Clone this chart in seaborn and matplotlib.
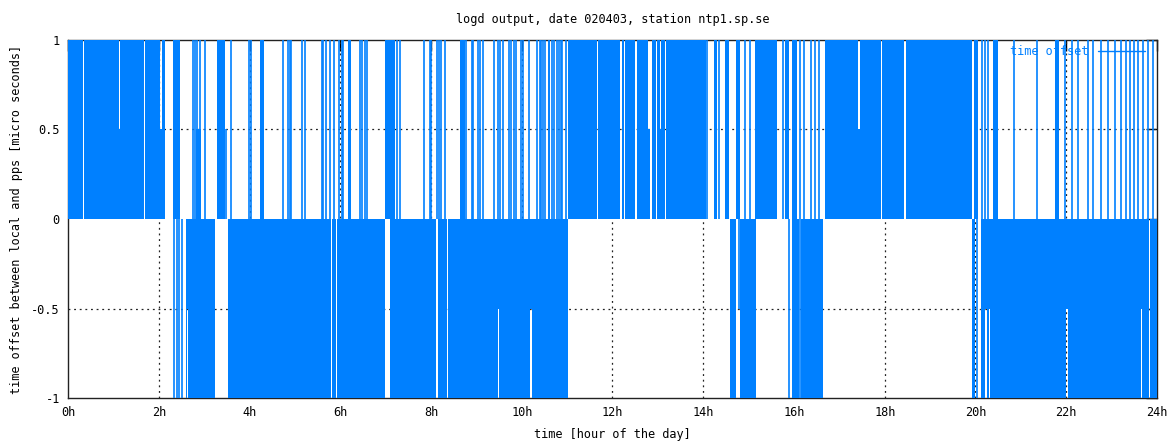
import matplotlib
matplotlib.use("Agg")
import matplotlib.pyplot as plt
import numpy as np
import seaborn as sns
from matplotlib.lines import Line2D

# solid runs of the offset: start hour, end hour, value [micro seconds]
seg_start = [0.00, 0.36, 1.12, 1.15, 1.70, 2.03, 2.06, 2.32, 2.83, 3.28, 4.24, 6.17, 6.98, 8.64,
             11.03, 11.68, 12.21, 12.28, 12.44, 12.54, 12.79, 12.86, 12.98, 13.04, 13.07, 13.17,
             14.23, 14.47, 14.72, 15.15, 15.81, 15.96, 16.68, 17.42, 17.45, 17.94, 18.46, 19.96,
             20.38, 21.76,
             2.59, 2.62, 2.65, 3.52, 5.82, 5.93, 7.09, 8.15, 8.38, 9.47, 9.50, 10.19, 10.22,
             14.60, 14.82, 15.96, 16.16, 19.93, 20.12, 20.22, 20.25, 20.29, 20.32, 22.00, 22.03,
             23.65, 23.68, 23.85]
seg_end = [0.33, 1.12, 1.15, 1.67, 2.03, 2.06, 2.13, 2.47, 2.93, 3.47, 4.32, 6.24, 7.20, 8.75,
           11.65, 12.16, 12.26, 12.42, 12.50, 12.79, 12.83, 12.96, 13.04, 13.07, 13.15, 14.06,
           14.30, 14.56, 14.80, 15.63, 15.88, 16.07, 17.42, 17.45, 17.91, 18.43, 19.93, 20.05,
           20.49, 21.85,
           2.62, 2.65, 3.24, 5.79, 5.90, 6.99, 8.12, 8.35, 9.47, 9.50, 10.19, 10.22, 11.03,
           14.72, 15.16, 16.11, 16.65, 20.00, 20.22, 20.25, 20.29, 20.32, 22.00, 22.03, 23.65,
           23.68, 23.82, 24.00]
seg_value = [1, 1, 0.5, 1, 1, 0.5, 1, 1, 0.5, 1, 1, 1, 1, 1,
             1, 1, 1, 1, 1, 1, 0.5, 1, 1, 0.5, 1, 1,
             1, 1, 1, 1, 1, 1, 1, 0.5, 1, 1, 1, 1,
             1, 1,
             -1, -0.5, -1, -1, -1, -1, -1, -1, -1, -0.5, -1, -0.5, -1,
             -1, -1, -1, -1, -1, -1, -0.5, -1, -0.5, -1, -0.5, -1,
             -0.5, -1, -1]

# single samples (impulses)
imp_hour = [2.75, 2.80, 2.85, 2.91, 3.02, 3.48, 3.59, 3.99, 4.03, 4.74, 4.84, 4.89, 4.92, 5.16,
            5.22, 5.59, 5.62, 5.69, 5.77, 5.86, 5.97, 6.04, 6.07, 6.44, 6.48, 6.55, 6.59, 7.26,
            7.32, 7.85, 7.98, 8.01, 8.13, 8.18, 8.22, 8.31, 8.77, 8.90, 8.92, 9.04, 9.08, 9.14,
            9.39, 9.48, 9.53, 9.59, 9.72, 9.76, 9.83, 9.87, 9.98, 10.03, 10.17, 10.33, 10.40,
            10.42, 10.47, 10.51, 10.59, 10.61, 10.67, 10.70, 10.77, 10.81, 10.86, 10.89, 10.98,
            14.08, 14.34, 14.91, 15.04, 15.75, 16.13, 16.23, 16.37, 16.47, 16.55, 20.14, 20.21,
            20.28, 20.85, 21.35, 21.97, 22.12, 22.27, 22.47, 22.60, 22.76, 22.91, 23.07, 23.21,
            23.31, 23.41, 23.50, 23.59, 23.70, 23.81, 23.92,
            2.34, 2.40, 2.45, 2.51, 14.78, 15.90, 16.14, 20.03]
imp_value = [1, 1, 1, 1, 1, 0.5, 1, 1, 1, 1, 1, 1, 1, 1,
             1, 1, 1, 1, 1, 1, 1, 1, 1, 1, 1, 1, 1, 1,
             1, 1, 1, 1, 1, 1, 1, 1, 1, 1, 1, 1, 1, 1,
             1, 1, 1, 1, 1, 1, 1, 1, 1, 1, 1, 1, 1,
             1, 1, 1, 1, 1, 1, 1, 1, 1, 1, 1, 1,
             1, 1, 1, 1, 1, 1, 1, 1, 1, 1, 1, 1,
             1, 1, 1, 1, 1, 1, 1, 1, 1, 1, 1, 1,
             1, 1, 1, 1, 1, 1, 1,
             -1, -1, -1, -1, -0.5, -1, -1, -1]

x_ticks = list(range(0, 25, 2))
x_labels = [f"{h}h" for h in x_ticks]
y_ticks = [-1, -0.5, 0, 0.5, 1]
y_labels = ["-1", "-0.5", "0", "0.5", "1"]

blue = "#0080ff"

sns.set_style("white")
plt.rcParams["font.family"] = ["DejaVu Sans Mono"]
plt.rcParams["font.size"] = 8.6
plt.rcParams["text.color"] = "black"
plt.rcParams["axes.labelcolor"] = "black"

fig = plt.figure(figsize=(11.67, 4.41), dpi=100)
ax = fig.add_axes([0.0583, 0.0975, 0.9331, 0.8118])

widths = np.array(seg_end) - np.array(seg_start)
ax.bar(seg_start, seg_value, width=widths, align="edge", color=blue, linewidth=0, zorder=3)
ax.vlines(imp_hour, 0, imp_value, color=blue, lw=1.2, zorder=3)

for h in x_ticks[1:-1]:
    ax.axvline(h, color="#222222", lw=0.9, ls=(0, (1.5, 3)), zorder=1)
for v in [-0.5, 0.5]:
    ax.axhline(v, color="#222222", lw=0.9, ls=(0, (1.5, 3)), zorder=1)

ax.set_xlim(0, 24)
ax.set_ylim(-1, 1)
ax.set_xticks(x_ticks)
ax.set_xticklabels(x_labels)
ax.set_yticks(y_ticks)
ax.set_yticklabels(y_labels)
ax.tick_params(direction="in", length=8, width=1, top=True, right=True, pad=6, colors="black")
for s in ax.spines.values():
    s.set_color("#222222")
    s.set_linewidth(1)

ax.set_title("logd output, date 020403, station ntp1.sp.se", fontsize=8.6, pad=12)
ax.set_xlabel("time [hour of the day]", labelpad=6)
ax.set_ylabel("time offset between local and pps [micro seconds]", labelpad=6)

handle = Line2D([], [], color=blue, lw=1)
leg = ax.legend([handle], ["time offset"], loc="upper right", frameon=False, markerfirst=False,
                handlelength=4, bbox_to_anchor=(0.997, 1.01), borderaxespad=0.3)
for t in leg.get_texts():
    t.set_color(blue)

fig.savefig("out.png", dpi=100)
